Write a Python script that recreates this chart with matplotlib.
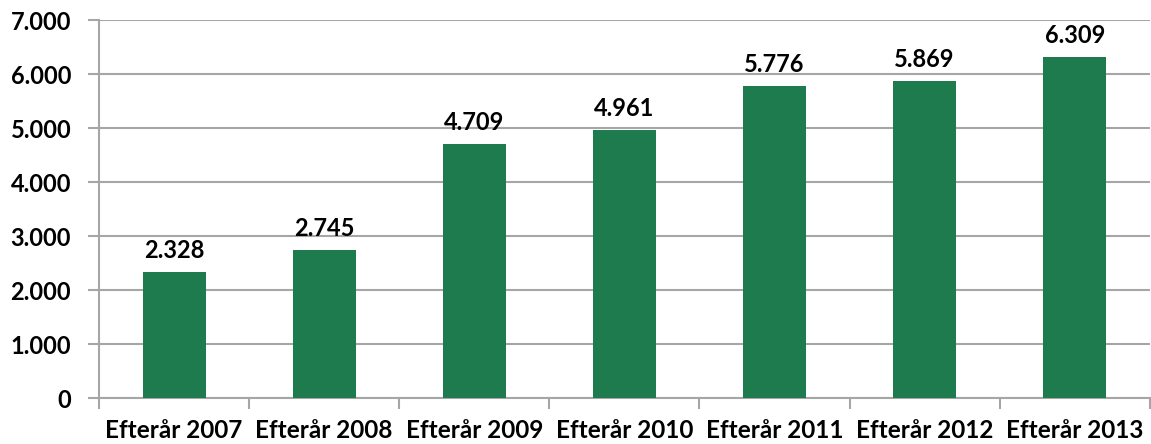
import matplotlib.pyplot as plt
from matplotlib.ticker import FuncFormatter

categories = ["Efterår 2007", "Efterår 2008", "Efterår 2009", "Efterår 2010",
              "Efterår 2011", "Efterår 2012", "Efterår 2013"]
values = [2328, 2745, 4709, 4961, 5776, 5869, 6309]


def dk(v, pos=None):
    return f"{int(v):,}".replace(",", ".")


plt.rcParams['font.family'] = ['Lato', 'DejaVu Sans']
plt.rcParams['font.weight'] = 'bold'

fig = plt.figure(figsize=(11.51, 4.44), dpi=100)
ax = fig.add_axes([0.086, 0.1036, 0.913, 0.851])

x = list(range(len(categories)))
bars = ax.bar(x, values, width=0.42, color="#1E7B4E", zorder=3)
for b, v in zip(bars, values):
    ax.text(b.get_x() + b.get_width() / 2, v + 190, dk(v), ha="center", va="bottom",
            fontsize=17, fontweight="bold")

ax.set_xlim(-0.5, len(categories) - 0.5)
ax.set_ylim(0, 7000)
ax.set_yticks(range(0, 7001, 1000))
ax.yaxis.set_major_formatter(FuncFormatter(dk))
ax.grid(axis="y", color="#A6A6A6", linewidth=1.5, zorder=0)

ax.set_xticks([i + 0.5 for i in range(-1, len(categories))], minor=False)
ax.set_xticklabels([])
ax.set_xticks(x, minor=True)
ax.set_xticklabels(categories, minor=True)
ax.tick_params(axis="x", which="minor", length=0, pad=15, labelsize=17.5)
ax.tick_params(axis="x", which="major", length=8, width=1.5, color="#A6A6A6")
ax.tick_params(axis="y", length=8, width=1.5, color="#A6A6A6", labelsize=17, pad=12)

for s in ["top", "right"]:
    ax.spines[s].set_visible(False)
for s in ["left", "bottom"]:
    ax.spines[s].set_color("#A6A6A6")
    ax.spines[s].set_linewidth(1.5)

fig.savefig("out.png", dpi=100)
